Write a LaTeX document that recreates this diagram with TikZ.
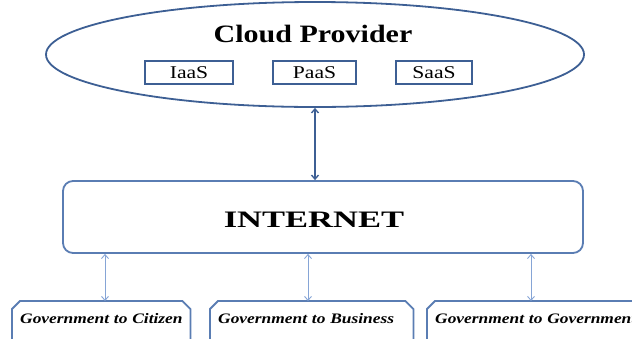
\documentclass[tikz,border=0pt]{standalone}
\usepackage{graphicx}
\usepackage{fontspec}
\setmainfont{Liberation Serif}[FakeStretch=1.2]
\usetikzlibrary{shapes.geometric,arrows.meta}
\definecolor{cloudblue}{HTML}{3D5F94}
\definecolor{netblue}{HTML}{5A7DB3}
\definecolor{lightblue}{HTML}{86A5D6}
\tikzset{
  svcbox/.style={draw=cloudblue, line width=1.5pt, minimum height=23pt, inner sep=0pt,
    font=\fontsize{18}{20}\selectfont, text height=12pt, text depth=0pt},
  govbox/.style={anchor=north west, inner xsep=8pt, inner ysep=12pt, text height=10pt,
    text depth=3pt, align=left, font=\fontsize{14.5}{16}\selectfont\bfseries\itshape},
  govline/.style={netblue, line width=1.8pt},
  toparrow/.style={cloudblue, line width=1.4pt, {Straight Barb[length=4pt,width=7pt]}-{Straight Barb[length=4pt,width=7pt]}},
  lowarrow/.style={lightblue, line width=0.9pt, {Straight Barb[length=4pt,width=7pt]}-{Straight Barb[length=4pt,width=7pt]}}
}
\begin{document}
\begin{tikzpicture}[x=1pt,y=-1pt]
\useasboundingbox (0,0) rectangle (632,338);
\clip (0,0) rectangle (632,338);
% cloud provider
\node[ellipse, draw=cloudblue, line width=1.8pt, minimum width=538pt, minimum height=105pt, inner sep=0pt] (cloud) at (315,54.5) {};
\node[anchor=base, inner sep=0pt, font=\fontsize{25}{30}\selectfont\bfseries] (cptext) at (313,42) {Cloud Provider};
\node[svcbox, minimum width=88pt] (iaas) at (189,72.5) {IaaS};
\node[svcbox, minimum width=83pt] (paas) at (314.5,72.5) {PaaS};
\node[svcbox, minimum width=76pt] (saas) at (434,72.5) {SaaS};
% internet
\node[draw=netblue, line width=1.8pt, rounded corners=10pt, minimum width=520pt, minimum height=72pt, inner sep=0pt] (inet) at (323,217) {};
\node[anchor=base, inner sep=0pt, font=\fontsize{23.6}{28}\selectfont\bfseries] (inettext) at (314,227) {\scalebox{1.22}[1]{INTERNET}};
\draw[toparrow] (cloud.south) -- (cloud.south |- inet.north);
% government boxes
\node[govbox, text width=162pt] (b1) at (12,301) {\mbox{Government to Citizen}};
\node[govbox, text width=187pt] (b2) at (210,301) {\mbox{Government to Business}};
\node[govbox, text width=220pt] (b3) at (427,301) {\mbox{Government to Government}};
\foreach \b in {b1,b2,b3}
  \draw[govline] ([yshift=-6pt]\b.south west) -- ([yshift=-8pt]\b.north west) -- ([xshift=8pt]\b.north west)
    -- ([xshift=-8pt]\b.north east) -- ([yshift=-8pt]\b.north east) -- ([yshift=-6pt]\b.south east);
\coordinate (a1) at (105,301);
\coordinate (a2) at (308,301);
\coordinate (a3) at (531,301);
\foreach \a in {a1,a2,a3}
  \draw[lowarrow] (\a |- inet.south) -- (\a);
\end{tikzpicture}
\end{document}
